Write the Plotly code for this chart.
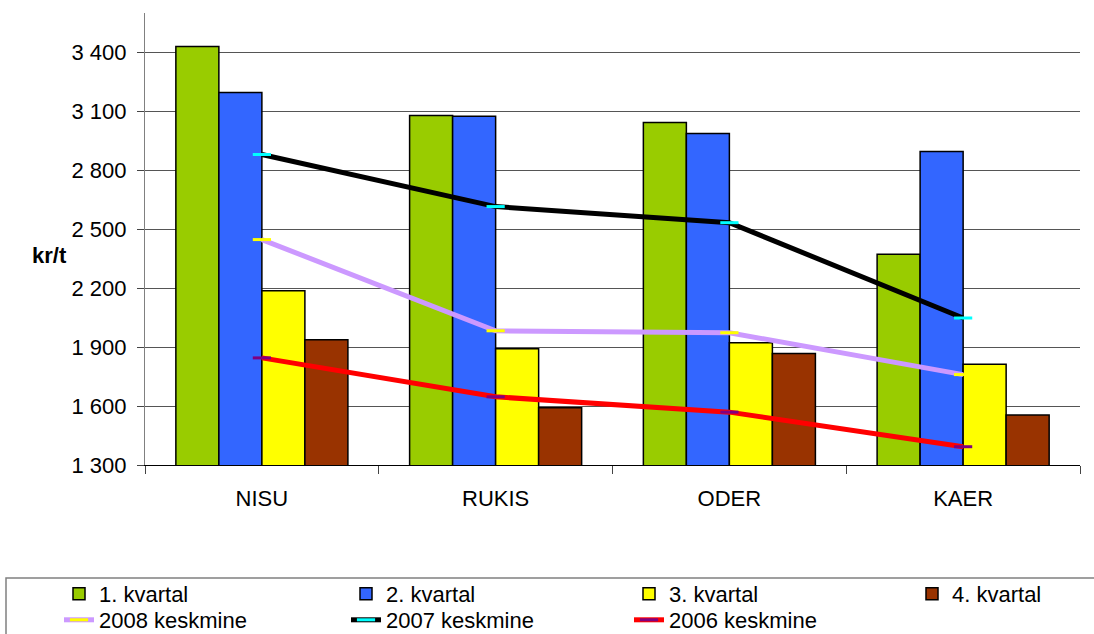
import plotly.graph_objects as go

categories = ["NISU", "RUKIS", "ODER", "KAER"]
q1 = [3430, 3079, 3043, 2372]
q2 = [3196, 3074, 2987, 2895]
q3 = [2187, 1891, 1922, 1813]
q4 = [1937, 1591, 1867, 1555]
avg2008 = [2447, 1983, 1973, 1760]
avg2007 = [2880, 2615, 2533, 2048]
avg2006 = [1845, 1647, 1569, 1393]
tick_vals = [1300, 1600, 1900, 2200, 2500, 2800, 3100, 3400]
tick_text = ["1 300", "1 600", "1 900", "2 200", "2 500", "2 800", "3 100", "3 400"]

FONT = "Liberation Sans, Arial, sans-serif"
FS = 22
W, H = 1094, 634
L, R, T, B = 145, 1080, 13, 465
pw, ph = R - L, B - T

def px_x(p):
    return (p - L) / pw

def px_y(p):
    return (B - p) / ph

fig = go.Figure()
bars = [
    ("1. kvartal", q1, "#99CC00", "legend"),
    ("2. kvartal", q2, "#3366FF", "legend2"),
    ("3. kvartal", q3, "#FFFF00", "legend3"),
    ("4. kvartal", q4, "#993300", "legend4"),
]
for name, vals, col, lg in bars:
    fig.add_trace(go.Bar(x=categories, y=vals, name=name, legend=lg,
                         marker=dict(color=col, line=dict(color="black", width=1.5))))

lines = [
    ("2008 keskmine", avg2008, "#CC99FF", "#FFFF00", "legend5"),
    ("2007 keskmine", avg2007, "#000000", "#00FFFF", "legend6"),
    ("2006 keskmine", avg2006, "#FF0000", "#800080", "legend7"),
]
for name, vals, col, mcol, lg in lines:
    fig.add_trace(go.Scatter(x=categories, y=vals, name=name, legend=lg, mode="lines+markers",
                             line=dict(color=col, width=5),
                             marker=dict(symbol="line-ew", size=13, color=mcol,
                                         line=dict(color=mcol, width=3))))

legend_common = dict(orientation="v", bgcolor="rgba(0,0,0,0)", borderwidth=0,
                     font=dict(family=FONT, size=FS, color="black"),
                     xref="container", yref="container",
                     xanchor="left", yanchor="middle", itemwidth=30)
text_x = [100, 387, 670, 953, 100, 387, 670]
row_y = [594, 594, 594, 594, 620, 620, 620]
leg = {}
keys = ["legend", "legend2", "legend3", "legend4", "legend5", "legend6", "legend7"]
for i, key in enumerate(keys):
    leg[key] = dict(legend_common, x=(text_x[i] - 41) / W, y=1 - row_y[i] / H)

fig.update_layout(
    width=W, height=H,
    margin=dict(l=L, r=W - R, t=T, b=H - B, autoexpand=False),
    paper_bgcolor="white", plot_bgcolor="white",
    barmode="group", bargap=0.264, bargroupgap=0,
    showlegend=True,
    font=dict(family=FONT, size=FS, color="black"),
    **leg,
)
fig.update_xaxes(type="category", showline=True, linecolor="black", linewidth=1.2,
                 ticks="outside", tickson="boundaries", ticklen=8, tickcolor="#444",
                 showgrid=False, tickfont=dict(family=FONT, size=FS, color="black"),
                 ticklabelstandoff=13, tickangle=0, automargin=False)
fig.update_yaxes(range=[1300, 3600], tickvals=tick_vals, ticktext=tick_text,
                 showline=True, linecolor="#808080", linewidth=1.2,
                 ticks="outside", ticklen=7, tickcolor="#444",
                 showgrid=True, gridcolor="#555", gridwidth=1,
                 tickfont=dict(family=FONT, size=FS, color="black"),
                 ticklabelstandoff=6, zeroline=False, automargin=False)

fig.add_annotation(text="<b>kr/t</b>", xref="paper", yref="paper",
                   x=px_x(30), y=px_y(255), showarrow=False,
                   font=dict(family=FONT, size=FS, color="black"))
fig.add_shape(type="rect", xref="paper", yref="paper",
              x0=px_x(6), x1=px_x(1110), y0=px_y(578), y1=px_y(650),
              line=dict(color="#808080", width=1.5), fillcolor="rgba(0,0,0,0)")

fig.write_html("out.html", config={"displayModeBar": False},
               post_script="document.body.style.margin='0';document.body.style.padding='0';document.body.style.overflow='hidden';")
